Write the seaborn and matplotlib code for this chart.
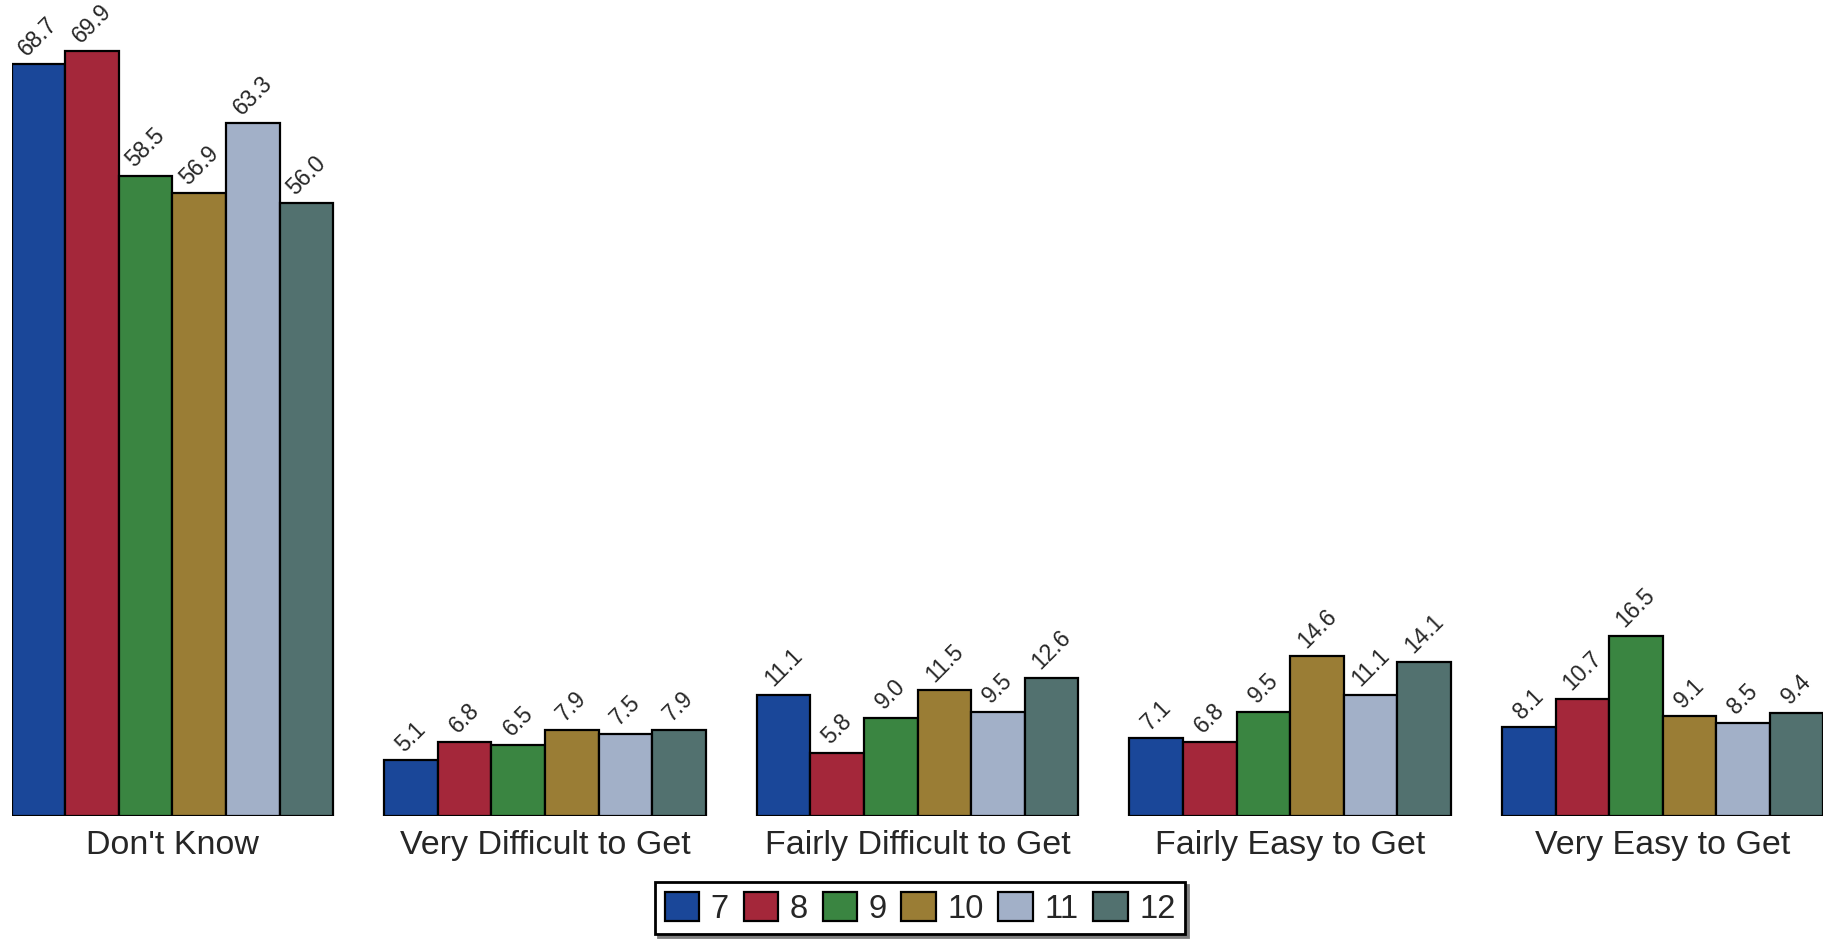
import matplotlib
matplotlib.use("Agg")
import matplotlib.pyplot as plt
import seaborn as sns
import pandas as pd

categories = ["Don't Know", "Very Difficult to Get", "Fairly Difficult to Get",
              "Fairly Easy to Get", "Very Easy to Get"]
grades = ["7", "8", "9", "10", "11", "12"]
values = {
    "7":  [68.7, 5.1, 11.1, 7.1, 8.1],
    "8":  [69.9, 6.8, 5.8, 6.8, 10.7],
    "9":  [58.5, 6.5, 9.0, 9.5, 16.5],
    "10": [56.9, 7.9, 11.5, 14.6, 9.1],
    "11": [63.3, 7.5, 9.5, 11.1, 8.5],
    "12": [56.0, 7.9, 12.6, 14.1, 9.4],
}
colors = ["#1a4799", "#a4273a", "#3a8541", "#9a7d35", "#a2b0c8", "#52716f"]

rows = []
for g in grades:
    for c, v in zip(categories, values[g]):
        rows.append({"category": c, "grade": g, "value": v})
df = pd.DataFrame(rows)

sns.set_style("white")
plt.rcParams["font.family"] = ["Liberation Sans", "DejaVu Sans"]

fig = plt.figure(figsize=(18.35, 9.41), dpi=100)
ax = fig.add_axes([0.00638, 0.1328, 0.98732, 0.8604])

sns.barplot(data=df, x="category", y="value", hue="grade", order=categories,
            hue_order=grades, palette=colors, width=0.863, dodge=True,
            edgecolor="black", linewidth=1.6, saturation=1, ax=ax, legend=True)

for cont in ax.containers:
    for bar in cont:
        h = bar.get_height()
        ax.annotate(f"{h:.1f}", (bar.get_x() + bar.get_width() / 2, h),
                    xytext=(0, 3), textcoords="offset points",
                    ha="center", va="bottom", rotation=45, fontsize=16.5)

ax.set_xlim(-0.4315, 4.4315)
ax.set_ylim(0, 74)
for s in ax.spines.values():
    s.set_visible(False)
ax.set_yticks([])
ax.set_xlabel("")
ax.set_ylabel("")
ax.tick_params(axis="x", length=0, pad=10, labelsize=24.5)

handles, labels = ax.get_legend_handles_labels()
ax.get_legend().remove()
leg = fig.legend(handles, labels, loc="lower center", bbox_to_anchor=(0.5015, 0.007),
                 ncol=6, fontsize=23.5, frameon=True, fancybox=False,
                 shadow={"color": "#7f7f7f", "alpha": 1},
                 handlelength=1.05, handleheight=1.0, handletextpad=0.36,
                 columnspacing=0.45, borderpad=0.3, borderaxespad=0)
leg.get_frame().set_edgecolor("black")
leg.get_frame().set_linewidth(2)

fig.savefig("out.png", dpi=100)
